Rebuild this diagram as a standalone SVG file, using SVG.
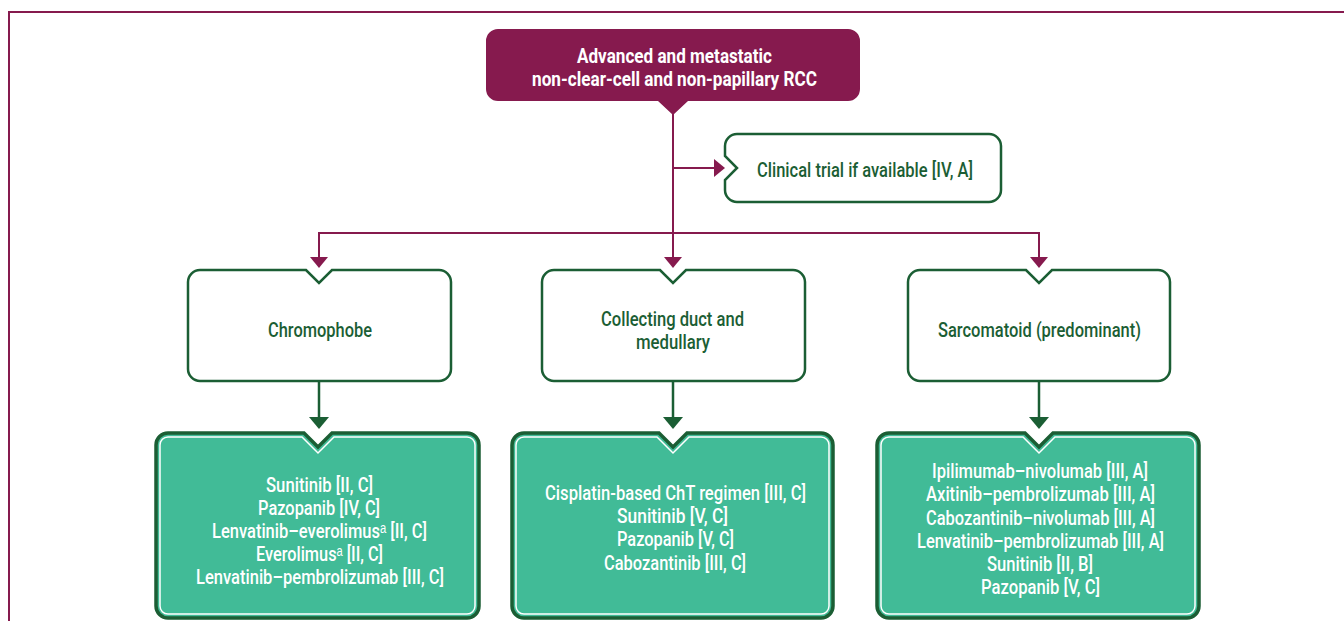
<svg xmlns="http://www.w3.org/2000/svg" width="1344" height="621" viewBox="0 0 1344 621">
<style>
text{font-family:"Liberation Sans Narrow","Roboto","Liberation Sans","DejaVu Sans",sans-serif;font-size:20px;font-weight:500;text-anchor:middle}
.ttl{fill:#ffffff;font-weight:bold}
.dg{fill:#1b5e34}
.wt{fill:#ffffff}
.pl{stroke:#861a4e;stroke-width:2;fill:none}
.gl{stroke:#1b5e34;stroke-width:2.5;fill:none}
.wbox{fill:#ffffff;stroke:#1b5e34;stroke-width:2.5}
.tbox{fill:#41bb97;stroke:#1b5e34;stroke-width:3.5}
.tin{fill:none;stroke:#ffffff;stroke-width:1.5}
.pa{fill:#861a4e}
.ga{fill:#1b5e34}
</style>
<g id="frame">
<path d="M9,621 V12 H1344" fill="none" stroke="#861a4e" stroke-width="2"/>
</g>
<g id="connectors">
<path class="pl" d="M673,112 V258"/>
<path class="pl" d="M673,168 H714"/>
<path class="pl" d="M319,258 V233 H1039 V258"/>
<polygon class="pa" points="714,159 725,168 714,177"/>
<polygon class="pa" points="310,257 328,257 319,268"/>
<polygon class="pa" points="664,257 682,257 673,268"/>
<polygon class="pa" points="1030,257 1048,257 1039,268"/>
<path class="gl" d="M319,381 V418"/>
<path class="gl" d="M673,381 V418"/>
<path class="gl" d="M1039,381 V418"/>
<polygon class="ga" points="309,417 329,417 319,429"/>
<polygon class="ga" points="663,417 683,417 673,429"/>
<polygon class="ga" points="1029,417 1049,417 1039,429"/>
</g>
<g id="root">
<path fill="#861a4e" d="M498,29 H848 A12,12 0 0 1 860,41 V89 A12,12 0 0 1 848,101 H688 L673,115 L658,101 H498 A12,12 0 0 1 486,89 V41 A12,12 0 0 1 498,29 Z"/>
<text class="ttl" x="674.5" y="63" textLength="195" lengthAdjust="spacingAndGlyphs">Advanced and metastatic</text>
<text class="ttl" x="674.5" y="86" textLength="285" lengthAdjust="spacingAndGlyphs">non-clear-cell and non-papillary RCC</text>
</g>
<g id="clinical-trial">
<path class="wbox" d="M737,134 H989 A12,12 0 0 1 1001,146 V190 A12,12 0 0 1 989,202 H737 A12,12 0 0 1 725,190 V180 L737,168 L725,156 V146 A12,12 0 0 1 737,134 Z"/>
<text class="dg" x="865" y="177" textLength="216" lengthAdjust="spacingAndGlyphs">Clinical trial if available [IV, A]</text>
</g>
<g id="chromophobe">
<path class="wbox" d="M200,270 H306 L319,283 L332,270 H439 A12,12 0 0 1 451,282 V369 A12,12 0 0 1 439,381 H200 A12,12 0 0 1 188,369 V282 A12,12 0 0 1 200,270 Z"/>
<text class="dg" x="320" y="337" textLength="104" lengthAdjust="spacingAndGlyphs">Chromophobe</text>
</g>
<g id="collecting-duct">
<path class="wbox" d="M554,270 H660 L673,283 L686,270 H793 A12,12 0 0 1 805,282 V369 A12,12 0 0 1 793,381 H554 A12,12 0 0 1 542,369 V282 A12,12 0 0 1 554,270 Z"/>
<text class="dg" x="672.5" y="326" textLength="143" lengthAdjust="spacingAndGlyphs">Collecting duct and</text>
<text class="dg" x="673" y="349" textLength="74" lengthAdjust="spacingAndGlyphs">medullary</text>
</g>
<g id="sarcomatoid">
<path class="wbox" d="M920,270 H1026 L1039,283 L1052,270 H1158 A12,12 0 0 1 1170,282 V369 A12,12 0 0 1 1158,381 H920 A12,12 0 0 1 908,369 V282 A12,12 0 0 1 920,270 Z"/>
<text class="dg" x="1039.5" y="337" textLength="203" lengthAdjust="spacingAndGlyphs">Sarcomatoid (predominant)</text>
</g>
<g id="chromophobe-treatment">
<path class="tbox" d="M168,433 H304 L318,447 L332,433 H467 A12,12 0 0 1 479,445 V606 A12,12 0 0 1 467,618 H168 A12,12 0 0 1 156,606 V445 A12,12 0 0 1 168,433 Z"/>
<path class="tin" d="M168,437 H302 L318,453 L334,437 H467 A8,8 0 0 1 475,445 V606 A8,8 0 0 1 467,614 H168 A8,8 0 0 1 160,606 V445 A8,8 0 0 1 168,437 Z"/>
<text class="wt" x="319.5" y="492" textLength="107" lengthAdjust="spacingAndGlyphs">Sunitinib [II, C]</text>
<text class="wt" x="319" y="515" textLength="122" lengthAdjust="spacingAndGlyphs">Pazopanib [IV, C]</text>
<text class="wt" x="319.5" y="538" textLength="215" lengthAdjust="spacingAndGlyphs">Lenvatinib–everolimusᵃ [II, C]</text>
<text class="wt" x="319.5" y="561" textLength="127" lengthAdjust="spacingAndGlyphs">Everolimusᵃ [II, C]</text>
<text class="wt" x="320" y="584" textLength="248" lengthAdjust="spacingAndGlyphs">Lenvatinib–pembrolizumab [III, C]</text>
</g>
<g id="collecting-duct-treatment">
<path class="tbox" d="M524,433 H659 L673,447 L687,433 H821 A12,12 0 0 1 833,445 V606 A12,12 0 0 1 821,618 H524 A12,12 0 0 1 512,606 V445 A12,12 0 0 1 524,433 Z"/>
<path class="tin" d="M524,437 H657 L673,453 L689,437 H821 A8,8 0 0 1 829,445 V606 A8,8 0 0 1 821,614 H524 A8,8 0 0 1 516,606 V445 A8,8 0 0 1 524,437 Z"/>
<text class="wt" x="675.5" y="500" textLength="261" lengthAdjust="spacingAndGlyphs">Cisplatin-based ChT regimen [III, C]</text>
<text class="wt" x="672.5" y="523" textLength="111" lengthAdjust="spacingAndGlyphs">Sunitinib [V, C]</text>
<text class="wt" x="675.5" y="546" textLength="117" lengthAdjust="spacingAndGlyphs">Pazopanib [V, C]</text>
<text class="wt" x="675" y="570" textLength="142" lengthAdjust="spacingAndGlyphs">Cabozantinib [III, C]</text>
</g>
<g id="sarcomatoid-treatment">
<path class="tbox" d="M889,433 H1025 L1039,447 L1053,433 H1187 A12,12 0 0 1 1199,445 V606 A12,12 0 0 1 1187,618 H889 A12,12 0 0 1 877,606 V445 A12,12 0 0 1 889,433 Z"/>
<path class="tin" d="M889,437 H1023 L1039,453 L1055,437 H1187 A8,8 0 0 1 1195,445 V606 A8,8 0 0 1 1187,614 H889 A8,8 0 0 1 881,606 V445 A8,8 0 0 1 889,437 Z"/>
<text class="wt" x="1040" y="478" textLength="216" lengthAdjust="spacingAndGlyphs">Ipilimumab–nivolumab [III, A]</text>
<text class="wt" x="1040.5" y="501" textLength="229" lengthAdjust="spacingAndGlyphs">Axitinib–pembrolizumab [III, A]</text>
<text class="wt" x="1040.5" y="525" textLength="229" lengthAdjust="spacingAndGlyphs">Cabozantinib–nivolumab [III, A]</text>
<text class="wt" x="1040.5" y="548" textLength="247" lengthAdjust="spacingAndGlyphs">Lenvatinib–pembrolizumab [III, A]</text>
<text class="wt" x="1040" y="571" textLength="106" lengthAdjust="spacingAndGlyphs">Sunitinib [II, B]</text>
<text class="wt" x="1040.5" y="594" textLength="119" lengthAdjust="spacingAndGlyphs">Pazopanib [V, C]</text>
</g>
</svg>
